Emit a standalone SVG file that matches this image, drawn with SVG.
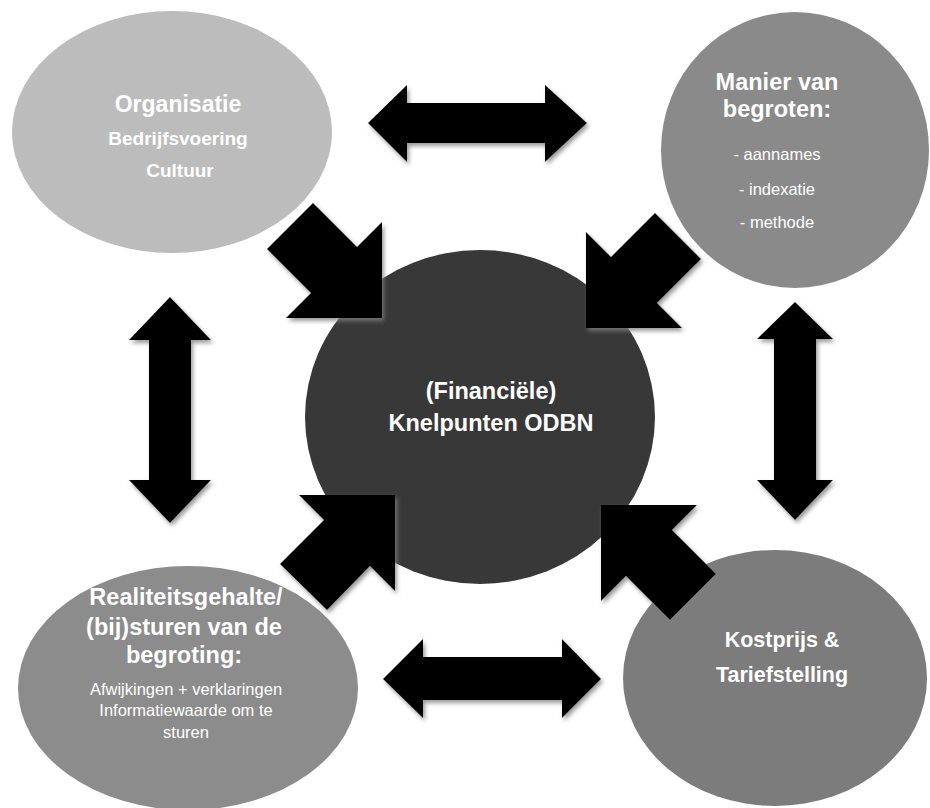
<svg xmlns="http://www.w3.org/2000/svg" width="930" height="808" viewBox="0 0 930 808">
<defs>
<style>
.t{font-family:"Liberation Sans",Arial,sans-serif;fill:#ffffff;text-anchor:middle}
.b{font-weight:bold}
.arrow{fill:#000000;filter:url(#sh)}
</style>
<filter id="sh" x="-20%" y="-20%" width="140%" height="140%">
<feDropShadow dx="2" dy="3" stdDeviation="2" flood-color="#808080" flood-opacity="0.8"/>
</filter>
</defs>
<rect width="930" height="808" fill="#ffffff"/>
<g id="node-organisatie">
<ellipse cx="172" cy="132" rx="160" ry="121" fill="#bcbcbc"/>
<text class="t b" x="178" y="112" font-size="23">Organisatie</text>
<text class="t b" x="178" y="145" font-size="19">Bedrijfsvoering</text>
<text class="t b" x="180" y="177" font-size="19">Cultuur</text>
</g>
<g id="node-begroten">
<ellipse cx="795" cy="150" rx="134" ry="138" fill="#8a8a8a"/>
<text class="t b" x="777" y="90" font-size="23.5">Manier van</text>
<text class="t b" x="777" y="117" font-size="23.5">begroten:</text>
<text class="t" x="777" y="160" font-size="16.5">- aannames</text>
<text class="t" x="777" y="195" font-size="16.5">- indexatie</text>
<text class="t" x="777" y="228" font-size="16.5">- methode</text>
</g>
<g id="node-realiteit">
<ellipse cx="188" cy="688" rx="170" ry="122" fill="#8c8c8c"/>
<text class="t b" x="186" y="605" font-size="23.5">Realiteitsgehalte/</text>
<text class="t b" x="184" y="635" font-size="23.5">(bij)sturen van de</text>
<text class="t b" x="184" y="663" font-size="23.5">begroting:</text>
<text class="t" x="186" y="695" font-size="16.5">Afwijkingen + verklaringen</text>
<text class="t" x="186" y="716" font-size="16.5">Informatiewaarde om te</text>
<text class="t" x="186" y="738" font-size="16.5">sturen</text>
</g>
<g id="node-kostprijs">
<ellipse cx="775" cy="678" rx="152" ry="128" fill="#7c7c7c"/>
<text class="t b" x="782" y="647" font-size="21.5">Kostprijs &amp;</text>
<text class="t b" x="782" y="682" font-size="21.5">Tariefstelling</text>
</g>
<g id="node-center">
<ellipse cx="480" cy="417" rx="175" ry="167" fill="#383838"/>
<text class="t b" x="491" y="399" font-size="23.5">(Financiële)</text>
<text class="t b" x="491" y="431" font-size="23.5">Knelpunten ODBN</text>
</g>
<g id="connectors">
<polygon class="arrow" points="368,123 407,85 407,103 545,103 545,85 587,123 545,162 545,143 407,143 407,162"/>
<polygon class="arrow" points="383,679 423,639 423,657 562,657 562,639 601,679 562,718 562,700 423,700 423,718"/>
<polygon class="arrow" points="795,302 833,339 816,339 816,480 833,480 795,520 757,480 774,480 774,339 757,339"/>
<polygon class="arrow" points="170,297 211,340 191,340 191,480 211,480 170,523 129,480 149,480 149,340 129,340"/>
<polygon class="arrow" points="313,203 357,247 382,222 382,318 286,318 311,293 267,249"/>
<polygon class="arrow" points="655,213 611,257 586,232 586,328 682,328 657,303 701,259"/>
<polygon class="arrow" points="395,495 299,495 324,520 280,564 327,610 370,566 395,591"/>
<polygon class="arrow" points="601,505 697,505 672,530 716,574 670,620 626,576 601,601"/>
</g>
</svg>
